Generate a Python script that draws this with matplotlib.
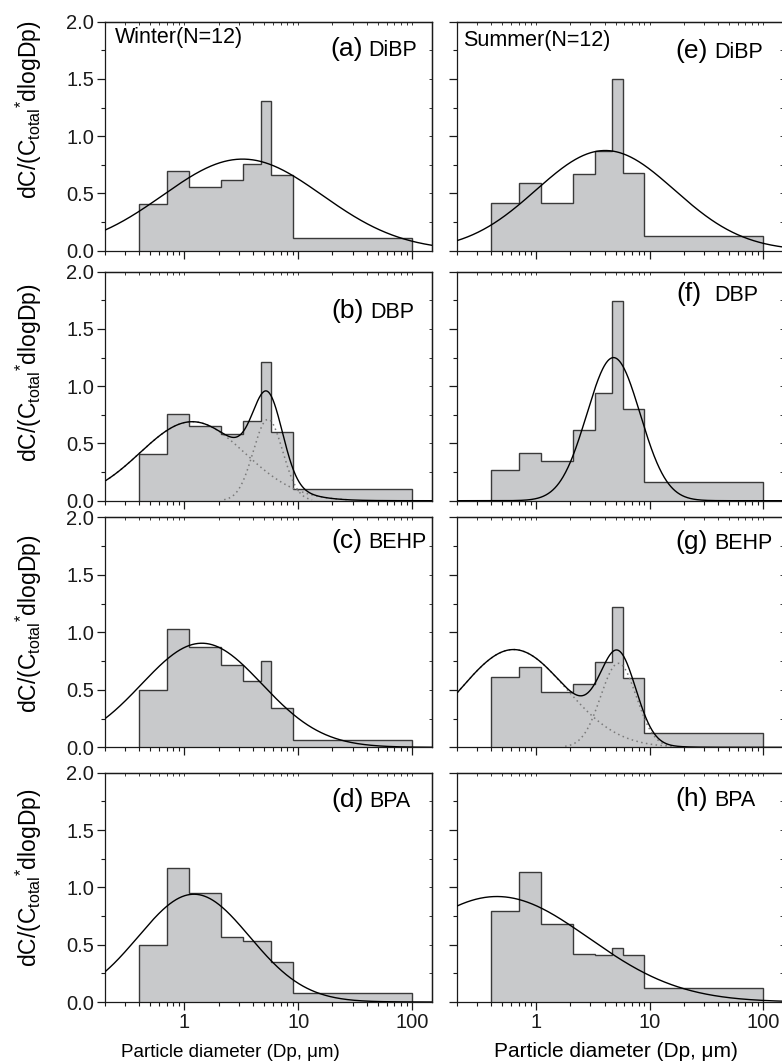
#!/usr/bin/env python3
"""
Size-resolved distributions of phthalates / BPA, winter vs summer.
Grey steps are the normalised impactor stages, solid curves are the
log-normal fits (dotted = individual modes for the bimodal panels).
"""

import numpy as np
import matplotlib
matplotlib.use("Agg")
import matplotlib.pyplot as plt
from matplotlib.ticker import (FixedLocator, LogLocator, MultipleLocator,
                               NullFormatter, FormatStrFormatter, FuncFormatter)

# ---------------------------------------------------------------------------
# Data
# ---------------------------------------------------------------------------

# impactor stage cut points, um
EDGES = [0.4, 0.7, 1.1, 2.1, 3.3, 4.7, 5.8, 9.0, 100]

WINTER_DIBP = [0.41, 0.70, 0.56, 0.62, 0.76, 1.31, 0.66, 0.11]
WINTER_DBP = [0.41, 0.76, 0.65, 0.58, 0.70, 1.21, 0.60, 0.105]
WINTER_BEHP = [0.50, 1.03, 0.87, 0.72, 0.58, 0.75, 0.345, 0.064]
WINTER_BPA = [0.50, 1.17, 0.95, 0.57, 0.53, 0.53, 0.35, 0.076]

SUMMER_DIBP = [0.42, 0.59, 0.42, 0.67, 0.87, 1.50, 0.675, 0.125]
SUMMER_DBP = [0.265, 0.42, 0.35, 0.62, 0.94, 1.74, 0.80, 0.163]
SUMMER_BEHP = [0.61, 0.70, 0.48, 0.55, 0.74, 1.22, 0.60, 0.128]
SUMMER_BPA = [0.79, 1.13, 0.68, 0.42, 0.41, 0.47, 0.41, 0.125]

# log-normal fit modes: amplitude, geometric mean Dp (um), sigma (log10 units)
FIT_A = {"a": [0.80], "b": [0.69, 0.71], "c": [0.905], "d": [0.94],
         "e": [0.875], "f": [1.25], "g": [0.85, 0.73], "h": [0.92]}
FIT_DP = {"a": [3.24], "b": [1.17, 5.42], "c": [1.42], "d": [1.21],
          "e": [4.06], "f": [4.80], "g": [0.63, 5.31], "h": [0.45]}
FIT_SIG = {"a": [0.70], "b": [0.46, 0.13], "c": [0.53], "d": [0.49],
           "e": [0.61], "f": [0.235], "g": [0.46, 0.157], "h": [0.81]}

COMPOUNDS = ["DiBP", "DBP", "BEHP", "BPA"]
WINTER = [WINTER_DIBP, WINTER_DBP, WINTER_BEHP, WINTER_BPA]
SUMMER = [SUMMER_DIBP, SUMMER_DBP, SUMMER_BEHP, SUMMER_BPA]
TAGS_WINTER = ["a", "b", "c", "d"]
TAGS_SUMMER = ["e", "f", "g", "h"]

# ---------------------------------------------------------------------------
# Layout (pixels, top-left origin)
# ---------------------------------------------------------------------------

W, H = 782, 1064
COLS = [(105, 432), (457, 783)]
ROWS = [(21.7, 250.7), (271.7, 500.7), (517.3, 747.3), (772.7, 1002.0)]

# start of "(x)" and of the compound name, baseline y
LABEL_POS = {
    "a": (330, 368, 56.0), "b": (331, 370, 318.3),
    "c": (331, 368, 548.3), "d": (331, 369, 806.7),
    "e": (675, 714, 58.3), "f": (676, 714, 300.7),
    "g": (675, 714, 549.3), "h": (675, 714, 806.0),
}
YLABEL_Y = [110, 373, 624, 878]

FILL = "#c8c9cb"
EDGE = "#3a3a3a"

plt.rcParams["font.family"] = ["Liberation Sans", "DejaVu Sans"]
plt.rcParams["mathtext.fontset"] = "custom"
plt.rcParams["mathtext.rm"] = "Liberation Sans"
plt.rcParams["mathtext.it"] = "Liberation Sans:italic"


def fx(px):
    return px / W


def fy(px):
    return 1 - px / H


def lognormal(x, amps, dps, sigs):
    """Return list of mode curves for a multi-modal log-normal fit."""
    lx = np.log10(x)
    return [a * np.exp(-(lx - np.log10(d)) ** 2 / (2 * s ** 2))
            for a, d, s in zip(amps, dps, sigs)]


def style_axes(ax, show_x, show_y):
    ax.set_xscale("log")
    ax.set_xlim(0.2, 150)
    ax.set_ylim(0, 2.0)

    ax.xaxis.set_major_locator(FixedLocator([1, 10, 100]))
    ax.xaxis.set_minor_locator(LogLocator(base=10, subs=np.arange(2, 10), numticks=20))
    ax.xaxis.set_major_formatter(FuncFormatter(lambda v, _: f"{v:g}"))
    ax.xaxis.set_minor_formatter(NullFormatter())
    ax.yaxis.set_major_locator(MultipleLocator(0.5))
    ax.yaxis.set_minor_locator(MultipleLocator(0.25))
    ax.yaxis.set_major_formatter(FormatStrFormatter("%.1f"))

    ax.tick_params(which="both", direction="out", top=False, right=False,
                   labelsize=14.5, colors="#1a1a1a",
                   labelbottom=show_x, labelleft=show_y, pad=2.5)
    ax.tick_params(which="major", length=5.5, width=0.9)
    ax.tick_params(which="minor", length=3, width=0.8)
    for sp in ax.spines.values():
        sp.set_linewidth(0.9)
        sp.set_color("#1a1a1a")

    # short inward ticks on top and right, as in the original
    top = ax.secondary_xaxis("top")
    top.xaxis.set_major_locator(FixedLocator([1, 10, 100]))
    top.xaxis.set_minor_locator(LogLocator(base=10, subs=np.arange(2, 10), numticks=20))
    top.xaxis.set_major_formatter(NullFormatter())
    top.xaxis.set_minor_formatter(NullFormatter())
    top.tick_params(which="both", direction="in", length=2.5, width=0.6,
                    colors="#1a1a1a")
    top.spines["top"].set_linewidth(0.9)

    right = ax.secondary_yaxis("right")
    right.yaxis.set_major_locator(MultipleLocator(0.25))
    right.yaxis.set_major_formatter(NullFormatter())
    right.tick_params(which="both", direction="in", length=2.5, width=0.6,
                      colors="#1a1a1a")
    right.spines["right"].set_linewidth(0.9)


def draw_panel(ax, values, tag):
    ax.stairs(values, EDGES, fill=True, color=FILL, linewidth=0, zorder=1)
    ax.stairs(values, EDGES, baseline=0, color=EDGE, linewidth=1.0, zorder=2)

    x = np.logspace(np.log10(0.2), np.log10(150), 800)
    modes = lognormal(x, FIT_A[tag], FIT_DP[tag], FIT_SIG[tag])
    if len(modes) > 1:
        for m in modes:
            # hide the part that would just sit on the x axis
            ax.plot(x, np.where(m > 0.008, m, np.nan), color="#7a7a7a",
                    lw=1.1, ls=(0, (1, 2.2)), zorder=3)
    ax.plot(x, np.sum(modes, axis=0), color="black", lw=1.0, zorder=4)


def main():
    fig = plt.figure(figsize=(W / 100, H / 100), dpi=100)

    for r, (top, bottom) in enumerate(ROWS):
        for c, (left, right) in enumerate(COLS):
            ax = fig.add_axes([fx(left), fy(bottom),
                               fx(right - left), (bottom - top) / H])
            style_axes(ax, show_x=(r == len(ROWS) - 1), show_y=(c == 0))
            data = WINTER if c == 0 else SUMMER
            tag = (TAGS_WINTER if c == 0 else TAGS_SUMMER)[r]
            draw_panel(ax, data[r], tag)

            xp, xn, yb = LABEL_POS[tag]
            fig.text(fx(xp), fy(yb), f"({tag})", fontsize=19,
                     va="baseline", ha="left")
            fig.text(fx(xn), fy(yb), COMPOUNDS[r], fontsize=15.5,
                     va="baseline", ha="left")

    fig.text(fx(115), fy(43.5), "Winter(N=12)", fontsize=15.5,
             va="baseline", ha="left")
    fig.text(fx(463), fy(45.7), "Summer(N=12)", fontsize=15.5,
             va="baseline", ha="left")

    ylab = r"dC/(C$_{\mathregular{total}}$$^{\mathregular{*}}$dlogDp)"
    for yc in YLABEL_Y:
        fig.text(fx(29), fy(yc), ylab, fontsize=16.5, rotation=90,
                 va="center", ha="center")

    for xc, size in ((230, 13.5), (616, 15)):
        fig.text(fx(xc), fy(1057), "Particle diameter (Dp, \u03bcm)",
                 fontsize=size, va="baseline", ha="center")

    fig.savefig("out.png", dpi=100, facecolor="white")
    plt.close(fig)


if __name__ == "__main__":
    main()
